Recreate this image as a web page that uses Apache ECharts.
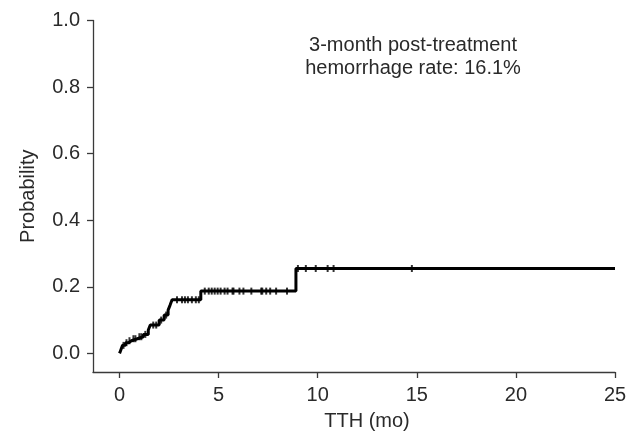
<!DOCTYPE html>
<html><head><meta charset="utf-8">
<script src="https://cdn.jsdelivr.net/npm/echarts@6/dist/echarts.min.js"></script>
<style>html,body{margin:0;padding:0;background:#fff}#c{width:636px;height:441px}</style>
</head><body><div id="c"></div>
<script>
// Step (event) times and cumulative probability after each event
var stepTimes  = [0, 0.05, 0.1, 0.15, 0.3, 0.45, 0.6, 0.9, 1.2, 1.45, 1.55, 2.0, 2.25, 2.45, 2.55, 2.65, 4.1, 8.9, 25];
var stepLevels = [0, 0.008, 0.016, 0.024, 0.032, 0.038, 0.044, 0.05, 0.057, 0.07, 0.085, 0.1, 0.115, 0.13, 0.145, 0.161, 0.187, 0.255, 0.255];
// Censoring times
var censorTimes = [0.2, 0.35, 0.5, 0.7, 0.8, 1.0, 1.1, 1.3, 1.7, 1.85, 2.1, 2.35,
  2.9, 3.15, 3.3, 3.45, 3.65, 3.85, 4.0,
  4.3, 4.5, 4.65, 4.8, 4.95, 5.1, 5.3, 5.45, 5.7, 5.75, 6.05, 6.25, 6.65, 7.15, 7.2, 7.4, 7.6, 7.9, 8.45,
  9.0, 9.4, 9.9, 10.5, 10.8, 14.75];
var xTicks = [0, 5, 10, 15, 20, 25];
var yTicks = [0, 0.2, 0.4, 0.6, 0.8, 1.0];
var annotation = ['3-month post-treatment', 'hemorrhage rate: 16.1%'];
var xTitle = 'TTH (mo)';
var yTitle = 'Probability';

function levelAt(t) {
  var v = stepLevels[0];
  for (var i = 0; i < stepTimes.length; i++) { if (stepTimes[i] <= t) v = stepLevels[i]; }
  return v;
}
var lineData = stepTimes.map(function (t, i) { return [t, stepLevels[i]]; });
var censorData = censorTimes.map(function (t) { return [t, levelAt(t)]; });

var FONT = 'Liberation Sans, Arial, Helvetica, sans-serif';
var AX = '#3a3a3a';
var TXT = '#2a2a2a';
var FS = 20;
var chart = echarts.init(document.getElementById('c'), null, {renderer: 'canvas'});
chart.setOption({
  animation: false,
  grid: {left: 93, right: 21, top: 20.5, bottom: 69, containLabel: false},
  xAxis: {
    type: 'value', min: -1.34, max: 25,
    axisLine: {onZero: false, lineStyle: {color: AX, width: 1.3}},
    axisTick: {show: true, customValues: xTicks, length: 6, lineStyle: {color: AX, width: 1.3}},
    axisLabel: {customValues: xTicks, color: TXT, fontSize: FS, fontFamily: FONT, margin: 13},
    splitLine: {show: false}
  },
  yAxis: {
    type: 'value', min: -0.056, max: 1.0,
    name: yTitle, nameLocation: 'middle', nameGap: 55,
    nameTextStyle: {color: TXT, fontSize: FS, fontFamily: FONT},
    axisLine: {show: true, onZero: false, lineStyle: {color: AX, width: 1.3}},
    axisTick: {show: true, customValues: yTicks, length: 6, lineStyle: {color: AX, width: 1.3}},
    axisLabel: {customValues: yTicks, color: TXT, fontSize: FS, fontFamily: FONT, margin: 13,
      formatter: function (v) { return v.toFixed(1); }},
    splitLine: {show: false}
  },
  graphic: [
    {type: 'text', x: 413, y: 45, style: {text: annotation[0], textAlign: 'center', textVerticalAlign: 'middle',
      fill: TXT, fontSize: FS, fontFamily: FONT}},
    {type: 'text', x: 413, y: 68, style: {text: annotation[1], textAlign: 'center', textVerticalAlign: 'middle',
      fill: TXT, fontSize: FS, fontFamily: FONT}},
    {type: 'text', x: 367, y: 421, style: {text: xTitle, textAlign: 'center', textVerticalAlign: 'middle',
      fill: TXT, fontSize: FS, fontFamily: FONT}}
  ],
  series: [
    {type: 'line', step: 'end', data: lineData, showSymbol: false, symbol: 'none',
     lineStyle: {color: '#000', width: 3}, z: 3},
    {type: 'scatter', data: censorData, symbol: 'rect', symbolSize: [2, 7],
     itemStyle: {color: '#000'}, z: 4}
  ]
});
</script></body></html>
